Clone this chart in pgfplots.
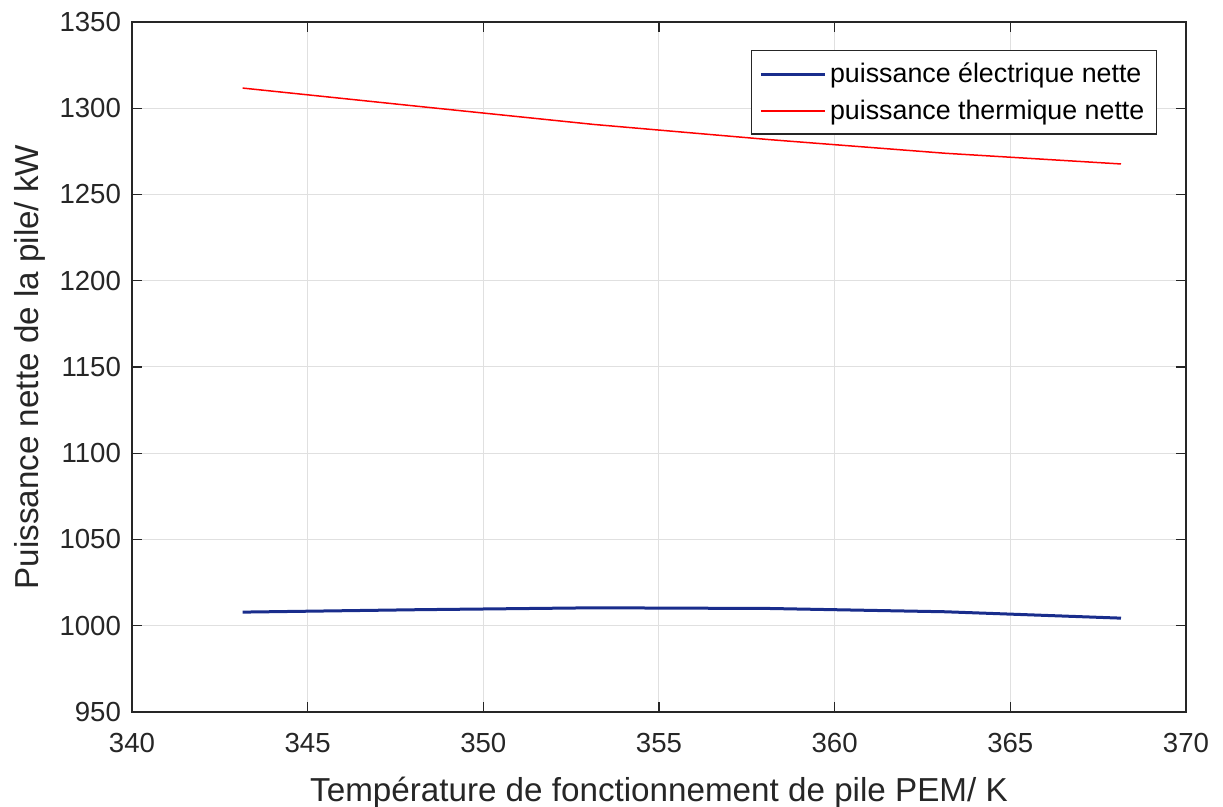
\documentclass[border=0pt]{standalone}
\usepackage{pgfplots}
\pgfplotsset{compat=1.18}
\usepackage{fontspec}
\setmainfont{Liberation Sans}
\definecolor{eblue}{RGB}{25,45,140}
\definecolor{axgray}{RGB}{38,38,38}
\begin{document}
\begin{tikzpicture}
\useasboundingbox (-132*0.5pt,-95*0.5pt) rectangle (1091*0.5pt,712*0.5pt);
\begin{axis}[
  at={(0,0)}, anchor=south west,
  scale only axis,
  width=527pt, height=345pt,
  xmin=340, xmax=370, ymin=950, ymax=1350,
  xtick={340,345,...,370}, ytick={950,1000,...,1350},
  grid=major,
  major grid style={draw=black!12, line width=0.5pt},
  axis line style={draw=axgray, line width=0.6pt},
  tick style={draw=axgray, line width=0.6pt},
  tick align=inside,
  major tick length=5pt,
  ticklabel style={font=\fontsize{13.8}{16}\selectfont, text=axgray},
  xticklabel style={yshift=-7pt},
  yticklabel style={xshift=-2pt},
  /pgf/number format/assume math mode=true,
  /pgf/number format/1000 sep={},
  xlabel={Température de fonctionnement de pile PEM/ K},
  ylabel={Puissance nette de la pile/ kW},
  label style={font=\fontsize{16.6}{19}\selectfont, text=axgray},
  xlabel style={yshift=-5.5pt},
  ylabel style={yshift=0pt},
  legend style={at={(0.9725,0.959)}, anchor=north east, draw=axgray, line width=0.6pt,
    font=\fontsize{13.4}{16}\selectfont, row sep=3pt, inner xsep=4pt, inner ysep=4pt},
  legend image code/.code={\draw[#1] (0cm,0cm) -- (1.12cm,0cm);},
  legend cell align=left,
]
\addplot[eblue, line width=1.5pt] coordinates {
 (343.15,1007.9) (348.15,1009.3) (353.15,1010.4) (358.15,1010.0) (363.15,1008.1) (368.15,1004.4)
};
\addlegendentry{puissance électrique nette}
\addplot[red, line width=0.75pt] coordinates {
 (343.15,1311.7) (348.15,1301.1) (353.15,1290.6) (358.15,1281.8) (363.15,1273.9) (368.15,1267.7)
};
\addlegendentry{puissance thermique nette}
\end{axis}
\end{tikzpicture}
\end{document}
